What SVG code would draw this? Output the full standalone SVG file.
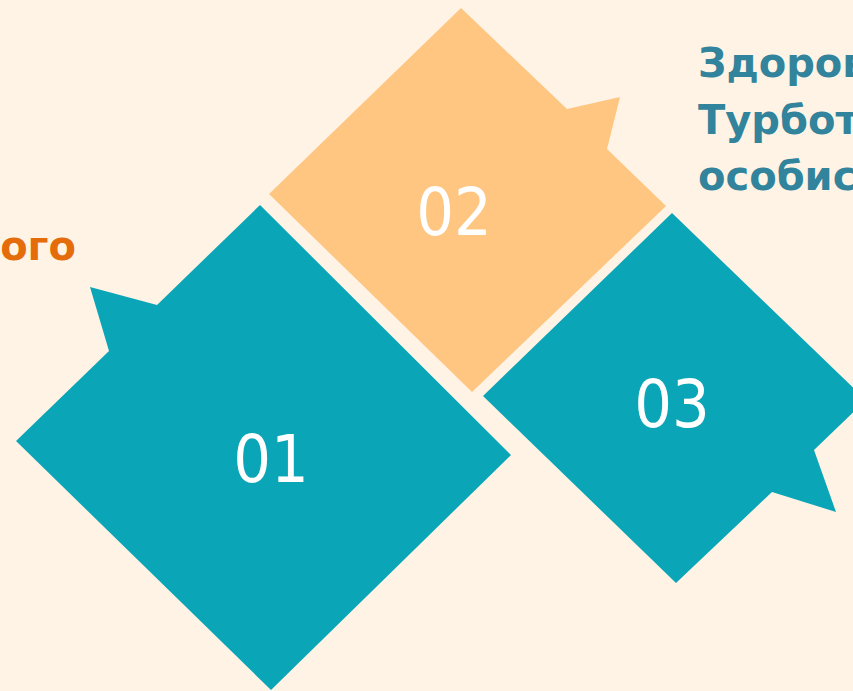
<svg xmlns="http://www.w3.org/2000/svg" width="853" height="691" viewBox="0 0 853 691">
<style>
.teal{fill:#0AA6B7}
.orange{fill:#FFC682}
.num{font-family:"DejaVu Sans Condensed","DejaVu Sans",sans-serif;font-stretch:condensed;font-size:66px;fill:#ffffff;text-anchor:middle}
.lbl{font-family:"DejaVu Sans",Verdana,sans-serif;font-weight:bold;font-size:40px}
</style>
<rect width="853" height="691" fill="#FFF3E5"/>
<g id="node-01">
<polygon class="teal" points="260,205 511,455 271,690 16,441 109,351 90,287 157,305"/>
<text class="num" x="271" y="482">01</text>
</g>
<g id="node-02">
<polygon class="orange" points="461,8 567,109 620,97 607,149 666,206 472,392 269,194"/>
<text class="num" x="454" y="235">02</text>
</g>
<g id="node-03">
<polygon class="teal" points="672,213 866,400 814,450 836,512 772,492 676,583 483,396"/>
<text class="num" x="672" y="427">03</text>
</g>
<g id="connectors"></g>
<g id="labels">
<text class="lbl" x="76" y="260" fill="#E46C0A" text-anchor="end">ого</text>
<text class="lbl" x="698" y="77" fill="#31849B">Здоров</text>
<text class="lbl" x="698" y="134" fill="#31849B">Турбот</text>
<text class="lbl" x="698" y="190" fill="#31849B">особис</text>
</g>
</svg>
